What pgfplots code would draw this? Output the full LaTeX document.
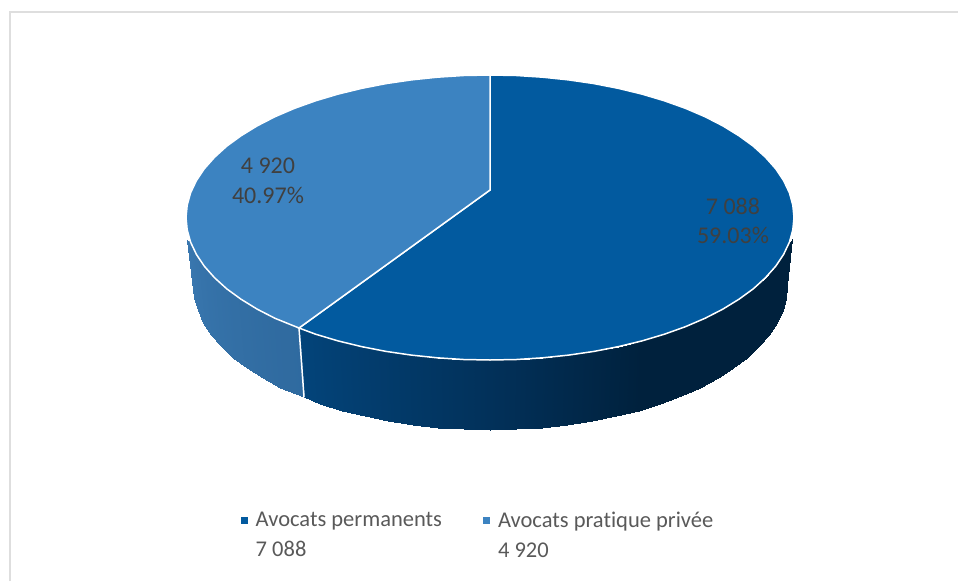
\documentclass[border=0pt]{standalone}
\usepackage{fontspec}
\setmainfont[Ligatures=NoCommon]{Carlito}
\usepackage{pgfplots}
\pgfplotsset{compat=1.18}
\definecolor{permanents}{RGB}{2,90,159}
\definecolor{privee}{RGB}{60,131,193}
\definecolor{labeltext}{RGB}{64,64,64}
\definecolor{legendtext}{RGB}{89,89,89}
\definecolor{frameline}{RGB}{222,222,222}

\begin{document}
\begin{tikzpicture}
  \begin{axis}[
      scale only axis,
      width=958pt,
      height=581pt,
      hide axis,
      xmin=0, xmax=958,
      ymin=0, ymax=581,
      y dir=reverse,
      point meta min=0,
      point meta max=180,
      colormap={pieside}{rgb255(0pt)=(0,33,61); rgb255(60pt)=(0,33,61); rgb255(90pt)=(2,49,90); rgb255(129pt)=(3,68,122); rgb255(130pt)=(47,106,159); rgb255(180pt)=(58,120,176)},
      legend columns=2,
      legend style={
        at={(axis cs:240.7,510)}, anchor=north west,
        draw=none, fill=none, inner sep=0pt, outer sep=0pt,
        font=\fontsize{22.5}{30}\selectfont,
        text=legendtext,
        cells={align=left},
        /tikz/every odd column/.append style={column sep=6pt},
        /tikz/every even column/.append style={column sep=39pt},
      },
      legend image code/.code={\fill[#1,draw=none] (0pt,11pt) rectangle (7pt,18pt);},
    ]
    % frame, only top and left show
    \addplot[forget plot, frameline, line width=2pt] coordinates {(9.5,581) (9.5,11.5) (958,11.5)};

    % side of the permanents slice, one quad per 5 degrees
    \addplot[forget plot, patch, patch type=rectangle, shader=interp, point meta=explicit] coordinates {
      (792,239) [5] (790.5,240.5) [5] (785.9,297.6) [5] (787,285) [5]
      (790.5,240.5) [5] (789.4,242.2) [10] (782.5,310.2) [10] (785.9,297.6) [5]
      (789.4,242.2) [10] (783.6,254.4) [15] (776.9,322.5) [15] (782.5,310.2) [10]
      (783.6,254.4) [15] (775.7,266.2) [20] (769.1,334.6) [20] (776.9,322.5) [15]
      (775.7,266.2) [20] (765.5,277.7) [25] (759.2,346.3) [25] (769.1,334.6) [20]
      (765.5,277.7) [25] (753.3,288.8) [30] (747.2,357.5) [30] (759.2,346.3) [25]
      (753.3,288.8) [30] (739,299.2) [35] (733.3,368.2) [35] (747.2,357.5) [30]
      (739,299.2) [35] (722.9,309.1) [40] (717.5,378.2) [40] (733.3,368.2) [35]
      (722.9,309.1) [40] (705,318.3) [45] (700,387.5) [45] (717.5,378.2) [40]
      (705,318.3) [45] (685.4,326.7) [50] (680.9,396.1) [50] (700,387.5) [45]
      (685.4,326.7) [50] (664.4,334.2) [55] (660.4,403.8) [55] (680.9,396.1) [50]
      (664.4,334.2) [55] (642,340.9) [60] (638.5,410.6) [60] (660.4,403.8) [55]
      (642,340.9) [60] (618.5,346.6) [65] (615.5,416.4) [65] (638.5,410.6) [60]
      (618.5,346.6) [65] (594,351.4) [70] (591.6,421.3) [70] (615.5,416.4) [65]
      (594,351.4) [70] (568.7,355.1) [75] (566.9,425.1) [75] (591.6,421.3) [70]
      (568.7,355.1) [75] (542.8,357.8) [80] (541.6,427.8) [80] (566.9,425.1) [75]
      (542.8,357.8) [80] (516.5,359.5) [85] (515.9,429.4) [85] (541.6,427.8) [80]
      (516.5,359.5) [85] (490,360) [90] (490,430) [90] (515.9,429.4) [85]
      (490,360) [90] (463.5,359.5) [95] (464.1,429.4) [95] (490,430) [90]
      (463.5,359.5) [95] (437.2,357.8) [100] (438.4,427.8) [100] (464.1,429.4) [95]
      (437.2,357.8) [100] (411.3,355.1) [105] (413.1,425.1) [105] (438.4,427.8) [100]
      (411.3,355.1) [105] (386,351.4) [110] (388.4,421.3) [110] (413.1,425.1) [105]
      (386,351.4) [110] (361.5,346.6) [115] (364.5,416.4) [115] (388.4,421.3) [110]
      (361.5,346.6) [115] (338,340.9) [120] (341.5,410.6) [120] (364.5,416.4) [115]
      (338,340.9) [120] (315.6,334.2) [125] (319.6,403.8) [125] (341.5,410.6) [120]
      (315.6,334.2) [125] (299,328) [129] (304,397) [129] (319.6,403.8) [125]
    };
    % side of the private practice slice
    \addplot[forget plot, patch, patch type=rectangle, shader=interp, point meta=explicit] coordinates {
      (299,328) [131] (275,318.3) [135] (280,387.5) [135] (304,397) [131]
      (275,318.3) [135] (257.1,309.1) [140] (262.5,378.2) [140] (280,387.5) [135]
      (257.1,309.1) [140] (241,299.2) [145] (246.7,368.2) [145] (262.5,378.2) [140]
      (241,299.2) [145] (226.7,288.8) [150] (232.8,357.5) [150] (246.7,368.2) [145]
      (226.7,288.8) [150] (214.5,277.7) [155] (220.8,346.3) [155] (232.8,357.5) [150]
      (214.5,277.7) [155] (204.3,266.2) [160] (210.9,334.6) [160] (220.8,346.3) [155]
      (204.3,266.2) [160] (196.4,254.4) [165] (203.1,322.5) [165] (210.9,334.6) [160]
      (196.4,254.4) [165] (190.6,242.2) [170] (197.5,310.2) [170] (203.1,322.5) [165]
      (190.6,242.2) [170] (187,240) [175] (194.1,297.6) [175] (197.5,310.2) [170]
      (187,240) [175] (187,240) [178] (193,285) [178] (194.1,297.6) [175]
    };
    \addplot[forget plot, white, line width=1.5pt] coordinates {(299,328) (304,397)};

    % top faces
    \addplot[fill=permanents, draw=white, line width=1.5pt] coordinates {
      (490,75) (516.5,75.5) (542.8,77.2) (568.7,79.9) (594,83.6) (618.5,88.4) (642,94.1)
      (664.4,100.8) (685.4,108.3) (705,116.7) (722.9,125.9) (739,135.8) (753.3,146.2)
      (765.5,157.3) (775.7,168.8) (783.6,180.6) (789.4,192.8) (792.8,205.1) (794,217.5)
      (792.8,229.9) (789.4,242.2) (783.6,254.4) (775.7,266.2) (765.5,277.7) (753.3,288.8)
      (739,299.2) (722.9,309.1) (705,318.3) (685.4,326.7) (664.4,334.2) (642,340.9)
      (618.5,346.6) (594,351.4) (568.7,355.1) (542.8,357.8) (516.5,359.5) (490,360)
      (463.5,359.5) (437.2,357.8) (411.3,355.1) (386,351.4) (361.5,346.6) (338,340.9)
      (315.6,334.2) (299,328) (490,190)
    } -- cycle;
    \addlegendentry{Avocats permanents\\7 088}
    \addplot[fill=privee, draw=white, line width=1.5pt] coordinates {
      (490,190) (299,328) (275,318.3) (257.1,309.1) (241,299.2) (226.7,288.8) (214.5,277.7)
      (204.3,266.2) (196.4,254.4) (190.6,242.2) (187.2,229.9) (186,217.5) (187.2,205.1)
      (190.6,192.8) (196.4,180.6) (204.3,168.8) (214.5,157.3) (226.7,146.2) (241,135.8)
      (257.1,125.9) (275,116.7) (294.6,108.3) (315.6,100.8) (338,94.1) (361.5,88.4)
      (386,83.6) (411.3,79.9) (437.2,77.2) (463.5,75.5) (490,75)
    } -- cycle;
    \addlegendentry{Avocats pratique privée\\4 920}

    % data labels
    \node[anchor=base, text=labeltext, font=\fontsize{24}{28}\selectfont] at (axis cs:268,173) {4 920};
    \node[anchor=base, text=labeltext, font=\fontsize{24}{28}\selectfont] at (axis cs:268,203) {40.97\%};
    \node[anchor=base, text=labeltext, font=\fontsize{24}{28}\selectfont] at (axis cs:733,214) {7 088};
    \node[anchor=base, text=labeltext, font=\fontsize{24}{28}\selectfont] at (axis cs:733,243) {59.03\%};

    % keep the page as large as the full picture
    \path (axis cs:0,0) rectangle (axis cs:958,581);
  \end{axis}
\end{tikzpicture}
\end{document}
